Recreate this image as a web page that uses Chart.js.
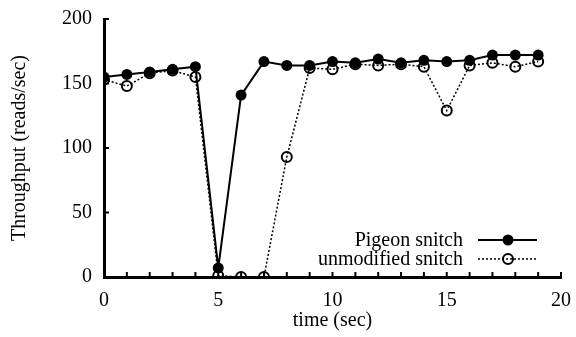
<!DOCTYPE html>
<html>
<head>
<meta charset="utf-8">
<script src="https://cdn.jsdelivr.net/npm/chart.js@4.4.1/dist/chart.umd.min.js"></script>
<style>
  html, body { margin: 0; padding: 0; background: #fff; }
  #wrap { width: 576px; height: 337px; }
</style>
</head>
<body>
<div id="wrap"><canvas id="myChart"></canvas></div>
<script>
const times = [0, 1, 2, 3, 4, 5, 6, 7, 8, 9, 10, 11, 12, 13, 14, 15, 16, 17, 18, 19];
const pigeon = [155, 157, 159, 161, 163, 7, 141, 167, 164, 164, 167, 166, 169, 166, 168, 167, 168, 172, 172, 172];
const unmodified = [153, 148, 158, 160, 155, 1, 0, 0, 93, 162, 161, 165, 164, 165, 163, 129, 164, 166, 163, 167];
const xLabels = [0, 5, 10, 15, 20];
const yLabels = [0, 50, 100, 150, 200];

const serif = '"Liberation Serif", "DejaVu Serif", serif';

function toPoints(vals) {
    return times.map((t, i) => ({ x: t, y: vals[i] }));
}

const data = {
    datasets: [
        {
            label: 'Pigeon snitch',
            data: toPoints(pigeon),
            borderColor: '#000',
            backgroundColor: '#000',
            borderWidth: 2,
            pointRadius: 5.5,
            pointBorderWidth: 0,
            pointBackgroundColor: '#000',
            order: 1
        },
        {
            label: 'unmodified snitch',
            data: toPoints(unmodified),
            borderColor: '#000',
            borderWidth: 1.5,
            borderDash: [2, 2],
            pointRadius: 5,
            pointBorderWidth: 2,
            pointBackgroundColor: 'rgba(0,0,0,0)',
            order: 2
        }
    ]
};

// inward tick marks + legend drawn in the bottom right corner
const extras = {
    id: 'extras',
    afterDraw(chart) {
        const ctx = chart.ctx;
        const xs = chart.scales.x, ys = chart.scales.y;
        ctx.save();
        ctx.strokeStyle = '#000';
        ctx.lineWidth = 2;
        for (let v = 0; v <= 20; v++) {
            const px = xs.getPixelForValue(v);
            ctx.beginPath();
            ctx.moveTo(px, ys.bottom);
            ctx.lineTo(px, ys.bottom - 5);
            ctx.stroke();
        }
        yLabels.forEach(v => {
            const py = ys.getPixelForValue(v);
            ctx.beginPath();
            ctx.moveTo(xs.left, py);
            ctx.lineTo(xs.left + 5, py);
            ctx.stroke();
        });

        // legend
        ctx.font = '20px ' + serif;
        ctx.fillStyle = '#000';
        ctx.textAlign = 'right';
        ctx.textBaseline = 'middle';
        const rows = [240, 259];
        chart.data.datasets.forEach((ds, i) => {
            const y = rows[i];
            ctx.fillText(ds.label, 463, y + 1);
            ctx.beginPath();
            ctx.lineWidth = ds.borderWidth;
            ctx.setLineDash(ds.borderDash || []);
            ctx.moveTo(478, y);
            ctx.lineTo(537, y);
            ctx.stroke();
            ctx.setLineDash([]);
            ctx.beginPath();
            ctx.arc(508, y, ds.pointRadius, 0, Math.PI * 2);
            if (i === 0) {
                ctx.fill();
            } else {
                ctx.lineWidth = ds.pointBorderWidth;
                ctx.stroke();
            }
        });
        ctx.restore();
    }
};

const config = {
    type: 'line',
    data: data,
    options: {
        responsive: true,
        maintainAspectRatio: false,
        animation: false,
        layout: { padding: { left: 0, right: 15, top: 19, bottom: 0 } },
        plugins: {
            legend: { display: false },
            tooltip: { enabled: false }
        },
        scales: {
            x: {
                type: 'linear',
                min: 0,
                max: 20,
                grid: { display: false, drawTicks: false },
                border: { display: true, color: '#000', width: 3 },
                afterBuildTicks: (axis) => { axis.ticks = xLabels.map(v => ({ value: v })); },
                afterFit: (axis) => {
                    axis.height = 60;
                    axis.paddingLeft = 0;
                    axis.paddingRight = 0;
                },
                ticks: {
                    color: '#000',
                    padding: 12,
                    maxRotation: 0,
                    font: { family: serif, size: 20 }
                },
                title: {
                    display: true,
                    text: 'time (sec)',
                    color: '#000',
                    padding: { top: 4, bottom: 4 },
                    font: { family: serif, size: 20 }
                }
            },
            y: {
                min: 0,
                max: 200,
                grid: { display: false, drawTicks: false },
                border: { display: true, color: '#000', width: 3 },
                afterBuildTicks: (axis) => { axis.ticks = yLabels.map(v => ({ value: v })); },
                afterFit: (axis) => {
                    axis.width = 104;
                    axis.paddingTop = 0;
                    axis.paddingBottom = 0;
                },
                ticks: {
                    color: '#000',
                    padding: 12,
                    font: { family: serif, size: 20 }
                },
                title: {
                    display: true,
                    text: 'Throughput (reads/sec)',
                    color: '#000',
                    padding: { top: 8, bottom: 4 },
                    font: { family: serif, size: 20 }
                }
            }
        }
    },
    plugins: [extras]
};

const myChart = new Chart(document.getElementById('myChart'), config);
</script>
</body>
</html>
